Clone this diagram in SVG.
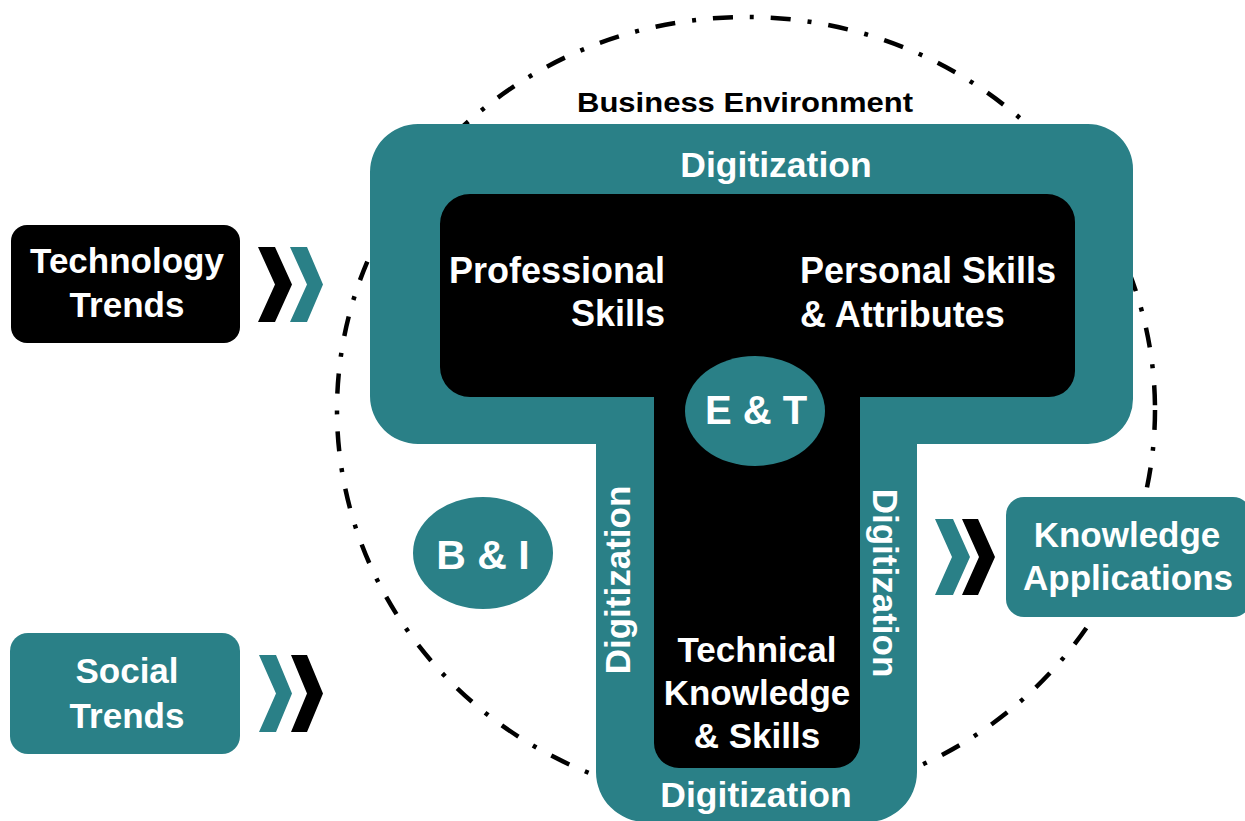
<svg xmlns="http://www.w3.org/2000/svg" width="1245" height="821" viewBox="0 0 1245 821">
  <style>
    .teal { fill: #2a8087; }
    .dark { fill: #000000; }
    .lbl { font-family: "Liberation Sans", Arial, sans-serif; font-weight: 700; fill: #ffffff; }
    .mid { text-anchor: middle; }
    .env { fill: none; stroke: #000000; stroke-width: 4.5; stroke-dasharray: 20 17 4 17; }
  </style>

  <rect width="1245" height="821" fill="#ffffff"/>

  <!-- dash-dot boundary of the business environment -->
  <g id="business-environment">
    <ellipse class="env" cx="746" cy="410" rx="409" ry="393"/>
    <text class="lbl" x="577" y="112" font-size="27" style="fill:#000000" textLength="336" lengthAdjust="spacingAndGlyphs">Business Environment</text>
  </g>

  <!-- T-shaped competence model -->
  <g id="t-model">
    <path class="teal" d="M418,124 H1088 A45,45 0 0 1 1133,169 V399 A45,45 0 0 1 1088,444 H917 V772 A50,50 0 0 1 867,822 H646 A50,50 0 0 1 596,772 V444 H418 A48,48 0 0 1 370,396 V172 A48,48 0 0 1 418,124 Z"/>
    <path class="dark" d="M470,194 H1047 A28,28 0 0 1 1075,222 V371 A26,26 0 0 1 1049,397 H860 V743 A25,25 0 0 1 835,768 H679 A25,25 0 0 1 654,743 V397 H470 A30,30 0 0 1 440,367 V224 A30,30 0 0 1 470,194 Z"/>
    <text class="lbl mid" x="776" y="177" font-size="35.5">Digitization</text>
    <text class="lbl mid" x="756" y="807" font-size="35.5">Digitization</text>
    <text class="lbl mid" font-size="35" transform="translate(630,580) rotate(-90)">Digitization</text>
    <text class="lbl mid" font-size="35" transform="translate(873,583) rotate(90)">Digitization</text>
  </g>

  <g id="professional-skills">
    <text class="lbl" font-size="36" text-anchor="end"><tspan x="665" y="283">Professional</tspan><tspan x="665" y="326">Skills</tspan></text>
  </g>

  <g id="personal-skills">
    <text class="lbl" font-size="36"><tspan x="800" y="283">Personal Skills</tspan><tspan x="800" y="327">&amp; Attributes</tspan></text>
  </g>

  <g id="technical-knowledge">
    <text class="lbl mid" font-size="35"><tspan x="757" y="662">Technical</tspan><tspan x="757" y="705">Knowledge</tspan><tspan x="757" y="748">&amp; Skills</tspan></text>
  </g>

  <g id="e-and-t">
    <ellipse class="teal" cx="755" cy="411" rx="70" ry="55"/>
    <text class="lbl mid" x="756" y="424" font-size="40">E &amp; T</text>
  </g>

  <g id="b-and-i">
    <ellipse class="teal" cx="483" cy="553" rx="70" ry="56"/>
    <text class="lbl mid" x="483" y="569" font-size="41">B &amp; I</text>
  </g>

  <g id="technology-trends">
    <rect class="dark" x="11" y="225" width="229" height="118" rx="16"/>
    <text class="lbl mid" font-size="35"><tspan x="127" y="273">Technology</tspan><tspan x="127" y="317">Trends</tspan></text>
  </g>

  <g id="social-trends">
    <rect class="teal" x="10" y="633" width="230" height="121" rx="18"/>
    <text class="lbl mid" font-size="35"><tspan x="127" y="683">Social</tspan><tspan x="127" y="728">Trends</tspan></text>
  </g>

  <g id="knowledge-applications">
    <rect class="teal" x="1006" y="497" width="245" height="120" rx="18"/>
    <text class="lbl mid" font-size="35"><tspan x="1127" y="547">Knowledge</tspan><tspan x="1128" y="590">Applications</tspan></text>
  </g>

  <!-- chevron connectors -->
  <g id="connectors">
    <polygon class="dark" points="258,247 275,247 292,284.5 275,322 258,322 275,284.5"/>
    <polygon class="teal" points="290,247 307,247 323,284.5 307,322 290,322 307,284.5"/>
    <polygon class="teal" points="259,655 276,655 292,693.5 276,732 259,732 276,693.5"/>
    <polygon class="dark" points="291,655 307,655 323,693.5 307,732 291,732 307,693.5"/>
    <polygon class="teal" points="935,519 953,519 970,557 953,595 935,595 952,557"/>
    <polygon class="dark" points="962,519 978,519 995,557 978,595 962,595 979,557"/>
  </g>
</svg>
